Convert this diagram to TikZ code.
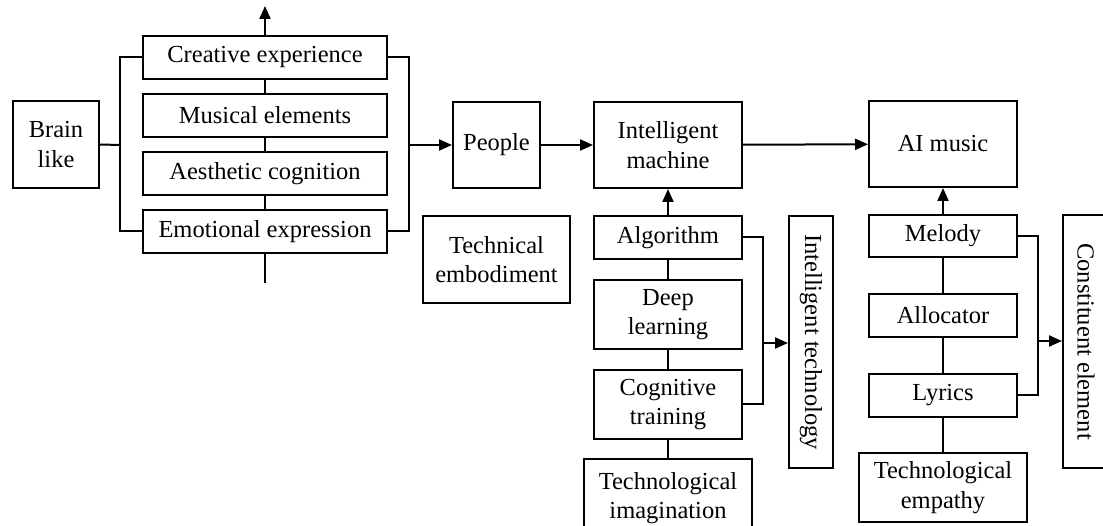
\documentclass[tikz,border=0pt]{standalone}
\usepackage{fontspec}
\setmainfont{Liberation Serif}
\usetikzlibrary{arrows.meta}
\tikzset{
  box/.style={draw, line width=2pt, inner sep=0pt, align=center,
    font=\fontsize{24.5}{29.5}\selectfont},
  conn/.style={line width=2pt},
  arr/.style={conn, -{Triangle[length=13pt,width=11pt]}},
}
\begin{document}
\begin{tikzpicture}[x=1pt,y=-1pt]
\useasboundingbox (0,0) rectangle (1103,526);
\clip (0,0) rectangle (1103,526);
% left group
\node[box, minimum width=86pt, minimum height=87pt] (brain) at (56,144.5) {Brain\\like};
\node[box, minimum width=244pt, minimum height=43pt] (ce) at (265,57.5) {Creative experience};
\node[box, minimum width=244pt, minimum height=43pt] (me) at (265,115.5) {Musical elements};
\node[box, minimum width=244pt, minimum height=43pt] (ac) at (265,173.5) {Aesthetic cognition};
\node[box, minimum width=244pt, minimum height=43pt] (ee) at (265,231.5) {Emotional expression};
\coordinate (top) at (265,6);
\coordinate (bot) at (265,283);
\coordinate (lb) at (120,145);
\coordinate (rb) at (409,145);
% middle
\node[box, minimum width=87pt, minimum height=86pt] (people) at (496.5,145) {People};
\node[box, minimum width=147pt, minimum height=87pt] (te) at (496.5,259.5) {Technical\\embodiment};
\node[box, minimum width=148pt, minimum height=86pt] (im) at (668,145) {Intelligent\\machine};
\node[box, minimum width=148pt, minimum height=43pt] (alg) at (668,237.5) {Algorithm};
\node[box, minimum width=148pt, minimum height=69pt] (dl) at (668,314.5) {Deep\\learning};
\node[box, minimum width=148pt, minimum height=69pt] (ct) at (668,404.5) {Cognitive\\training};
\node[box, minimum width=168pt, minimum height=78pt] (ti) at (668,498) {Technological\\imagination};
\node[box, minimum width=252pt, minimum height=44pt, rotate=-90] (it) at (811,342) {Intelligent technology};
\coordinate (mb) at (763,343);
% right
\node[box, minimum width=148pt, minimum height=86pt] (ai) at (943,144) {AI music};
\node[box, minimum width=148pt, minimum height=42pt] (mel) at (943,236) {Melody};
\node[box, minimum width=148pt, minimum height=43pt] (alloc) at (943,315.5) {Allocator};
\node[box, minimum width=148pt, minimum height=43pt] (lyr) at (943,395.5) {Lyrics};
\node[box, minimum width=168pt, minimum height=69pt] (tem) at (943,487.5) {Technological\\empathy};
\node[box, minimum width=253pt, minimum height=46pt, rotate=-90] (cel) at (1086,341.5) {Constituent element};
\coordinate (rb2) at (1038,341);
% connectors left
\draw[arr] (ce.north) -- (top);
\draw[conn] (ce) -- (me);
\draw[conn] (me) -- (ac);
\draw[conn] (ac) -- (ee);
\draw[conn] (ee.south) -- (bot);
\draw[conn] (brain.east) -- (lb);
\draw[conn] (ce.west) -| (lb) |- (ee.west);
\draw[conn] (ce.east) -| (rb) |- (ee.east);
\draw[arr] (rb) -- (people.west);
\draw[arr] (people) -- (im);
\draw[arr] (im) -- (ai);
% middle column
\draw[arr] (alg) -- (im);
\draw[conn] (alg) -- (dl);
\draw[conn] (dl) -- (ct);
\draw[conn] (ct) -- (ti);
\draw[conn] (alg.east) -| (mb) |- (ct.east);
\draw[arr] (mb) -- (mb -| it.south);
% right column
\draw[arr] (mel) -- (ai);
\draw[conn] (mel) -- (alloc);
\draw[conn] (alloc) -- (lyr);
\draw[conn] (lyr) -- (tem);
\draw[conn] (mel.east) -| (rb2) |- (lyr.east);
\draw[arr] (rb2) -- (rb2 -| cel.south);
\end{tikzpicture}
\end{document}
